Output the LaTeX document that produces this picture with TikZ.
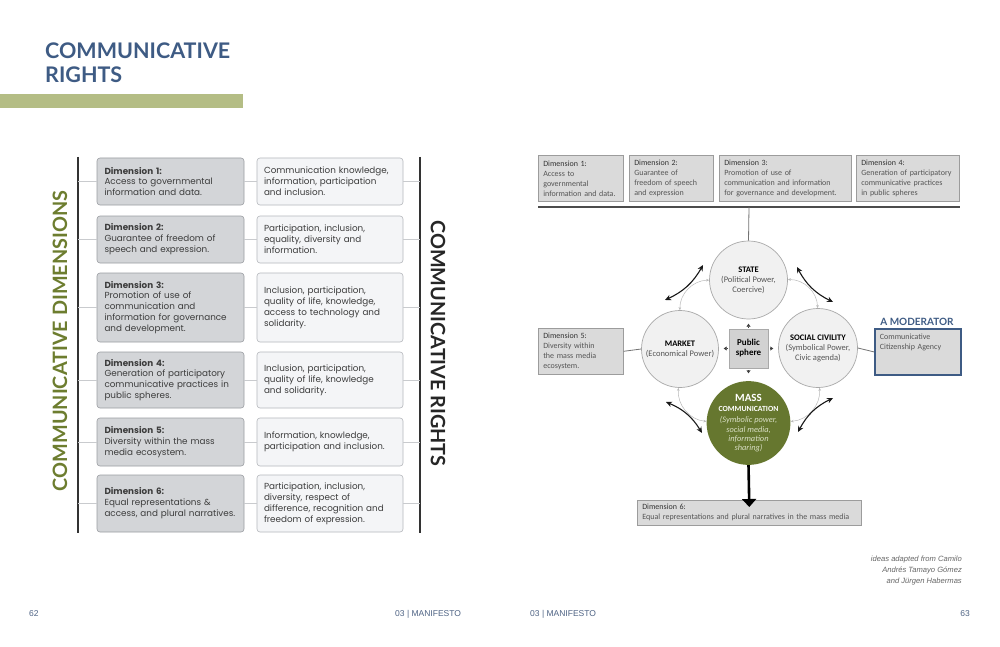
\documentclass[tikz,border=0pt]{standalone}
\usepackage{fontspec}
\setmainfont{Carlito}
\newfontfamily\lato{Lato}
\newfontfamily\pop{Poppins}
\newfontfamily\libs{Liberation Sans}
\usetikzlibrary{arrows.meta}
\definecolor{titleblue}{HTML}{3E5B84}
\definecolor{barolive}{HTML}{B4BD85}
\definecolor{dimgreen}{HTML}{6D7D2F}
\definecolor{massgreen}{HTML}{66772F}
\definecolor{masstext}{HTML}{D8DEC4}
\definecolor{lboxfill}{HTML}{D3D5D8}
\definecolor{lboxborder}{HTML}{9A9DA2}
\definecolor{rboxfill}{HTML}{F4F5F7}
\definecolor{rboxborder}{HTML}{B5B8BC}
\definecolor{ltext}{HTML}{3C3C3C}
\definecolor{grayline}{HTML}{C9CBCE}
\definecolor{tboxfill}{HTML}{DADADA}
\definecolor{tboxborder}{HTML}{9C9C9C}
\definecolor{circfill}{HTML}{F1F1F1}
\definecolor{circborder}{HTML}{A9A9A9}
\definecolor{psfill}{HTML}{D2D2D2}
\definecolor{pagecol}{HTML}{4E6384}
\definecolor{dimhead}{HTML}{333333}
\definecolor{dimbody}{HTML}{555555}
\begin{document}
\begin{tikzpicture}[x=1pt,y=-1pt,
  lbox/.style={draw=lboxborder, fill=lboxfill, rounded corners=3pt, line width=0.6pt,
    text width=132pt, inner xsep=7.5pt, align=left, text=ltext,
    font=\pop\fontsize{8.8}{10.9}\selectfont},
  rbox/.style={draw=rboxborder, fill=rboxfill, rounded corners=3pt, line width=0.6pt,
    text width=132pt, inner xsep=7pt, align=left, text=ltext,
    font=\pop\fontsize{8.8}{10.9}\selectfont},
  vline/.style={draw=black!80, line width=1.2pt},
  hline/.style={draw=grayline, line width=0.8pt},
  tbox/.style={draw=tboxborder, fill=tboxfill, line width=0.6pt, anchor=north west,
    minimum height=46pt, inner xsep=5pt, inner ysep=3pt, align=left, text=dimbody,
    font=\fontsize{8}{10}\selectfont, execute at begin node={\hyphenpenalty=10000}},
  circ/.style={circle, draw=circborder, fill=circfill, line width=0.7pt, align=center,
    text=dimbody, font=\fontsize{8.5}{10}\selectfont, inner sep=0pt},
  ringarc/.style={draw=circborder!80, line width=0.5pt,
    {Stealth[length=3pt,width=2.6pt]}-{Stealth[length=3pt,width=2.6pt]}},
  bigarrow/.style={draw=black!90, line width=1.1pt,
    {Stealth[length=6pt,width=5.5pt]}-{Stealth[length=6pt,width=5.5pt]}},
  pstip/.style={draw=black!75, line width=0.4pt, -{Triangle[length=3pt,width=4pt]}},
  conn/.style={draw=black!55, line width=0.8pt}
]
\useasboundingbox (0,0) rectangle (1000,647);
\fill[white] (0,0) rectangle (1000,647);

% ---------------- left page ----------------
\node[anchor=north west, inner sep=0pt, align=left, text=titleblue,
  font=\lato\bfseries\fontsize{21.5}{23.5}\selectfont] (title) at (45,43) {COMMUNICATIVE\\RIGHTS};
\fill[barolive] (0,94) rectangle (243,108.5);

\node[rotate=90, text=dimgreen, font=\lato\bfseries\fontsize{19.8}{24}\selectfont, inner sep=0pt]
  (vdim) at (60,341) {COMMUNICATIVE DIMENSIONS};
\node[rotate=-90, text=black!85, font=\lato\bfseries\fontsize{19.8}{24}\selectfont, inner sep=0pt]
  (vright) at (438,343.5) {COMMUNICATIVE RIGHTS};

\coordinate (vlt) at (78,157);
\coordinate (vlb) at (78,533);
\coordinate (vrt) at (420,157);
\coordinate (vrb) at (420,533);
\draw[vline] (vlt) -- (vlb);
\draw[vline] (vrt) -- (vrb);

\node[lbox, minimum height=47pt] (l1) at (170.5,181.5)
  {\textbf{Dimension 1:}\\Access to governmental\\information and data.};
\node[rbox, minimum height=47pt] (r1) at (330,181.5)
  {Communication knowledge,\\information, participation\\and inclusion.};
\node[lbox, minimum height=47pt] (l2) at (170.5,239.5)
  {\textbf{Dimension 2:}\\Guarantee of freedom of\\speech and expression.};
\node[rbox, minimum height=47pt] (r2) at (330,239.5)
  {Participation, inclusion,\\equality, diversity and\\information.};
\node[lbox, minimum height=69pt] (l3) at (170.5,307.5)
  {\textbf{Dimension 3:}\\Promotion of use of\\communication and\\information for governance\\and development.};
\node[rbox, minimum height=69pt] (r3) at (330,307.5)
  {Inclusion, participation,\\quality of life, knowledge,\\access to technology and\\solidarity.};
\node[lbox, minimum height=56pt] (l4) at (170.5,380)
  {\textbf{Dimension 4:}\\Generation of participatory\\communicative practices in\\public spheres.};
\node[rbox, minimum height=56pt] (r4) at (330,380)
  {Inclusion, participation,\\quality of life, knowledge\\and solidarity.};
\node[lbox, minimum height=48pt] (l5) at (170.5,442)
  {\textbf{Dimension 5:}\\Diversity within the mass\\media ecosystem.};
\node[rbox, minimum height=48pt] (r5) at (330,442)
  {Information, knowledge,\\participation and inclusion.};
\node[lbox, minimum height=57pt] (l6) at (170.5,503.5)
  {\textbf{Dimension 6:}\\Equal representations \&\\access, and plural narratives.};
\node[rbox, minimum height=57pt] (r6) at (330,503.5)
  {Participation, inclusion,\\diversity, respect of\\difference, recognition and\\freedom of expression.};

\foreach \i/\y in {1/181.5,2/239.5,3/307.5,4/380,5/442,6/503.5}{
  \coordinate (hl\i) at (78,\y);
  \coordinate (hr\i) at (420,\y);
  \draw[hline] (hl\i) -- (l\i.west);
  \draw[hline] (l\i.east) -- (r\i.west);
  \draw[hline] (r\i.east) -- (hr\i);
}

% ---------------- right page ----------------
\node[tbox, text width=75pt] (t1) at (538,155)
  {\textcolor{dimhead}{Dimension 1:}\\Access to\\governmental\\information and data.};
\node[tbox, text width=74pt] (t2) at (629,155)
  {\textcolor{dimhead}{Dimension 2:}\\Guarantee of\\freedom of speech\\and expression};
\node[tbox, text width=122pt] (t3) at (719,155)
  {\textcolor{dimhead}{Dimension 3:}\\Promotion of use of\\communication and information\\for governance and development.};
\node[tbox, text width=93pt] (t4) at (856,155)
  {\textcolor{dimhead}{Dimension 4:}\\Generation of participatory\\communicative practices\\in public spheres};

\coordinate (barL) at (538,207);
\coordinate (barR) at (960,207);
\coordinate (barM) at (749,207);
\draw[draw=black!70, line width=2.4pt] (barL) -- (barR);

\node[circ, minimum size=78pt] (state) at (748.5,280)
  {\textcolor{black}{\textbf{STATE}}\\(Political Power,\\Coercive)};
\node[circ, minimum size=77pt] (market) at (680,349)
  {\textcolor{black}{\textbf{MARKET}}\\(Economical Power)};
\node[circ, minimum size=79pt] (social) at (818,348)
  {\textcolor{black}{\textbf{SOCIAL CIVILITY}}\\(Symbolical Power,\\Civic agenda)};
\node[circle, fill=massgreen, minimum size=78pt, inner sep=0pt, align=center,
  font=\fontsize{8.4}{9.3}\selectfont] (mass) at (748.5,423)
  {\mbox{}\\[-1.3pt]
   \textcolor{white}{\bfseries\fontsize{11}{9.3}\selectfont MASS}\\
   \textcolor{white}{\bfseries\fontsize{7.8}{9.3}\selectfont COMMUNICATION}\\[2.5pt]
   \textcolor{masstext}{\itshape (Symbolic power,}\\
   \textcolor{masstext}{\itshape social media,}\\
   \textcolor{masstext}{\itshape information}\\
   \textcolor{masstext}{\itshape sharing)}};
\node[draw=circborder, fill=psfill, line width=0.6pt, minimum size=39pt, inner sep=0pt,
  align=center, font=\bfseries\fontsize{9}{10}\selectfont] (ps) at (748.5,348.5) {Public\\sphere};

\draw[conn] (barM) -- (state.north);

\draw[ringarc] (state) to[bend right=45] (market);
\draw[ringarc] (state) to[bend left=45] (social);
\draw[ringarc] (market) to[bend right=45] (mass);
\draw[ringarc] (social) to[bend left=45] (mass);

\draw[pstip] ([yshift=2pt]ps.north) -- ([yshift=5pt]ps.north);
\draw[pstip] ([yshift=-2pt]ps.south) -- ([yshift=-5pt]ps.south);
\draw[pstip] ([xshift=-2pt]ps.west) -- ([xshift=-5pt]ps.west);
\draw[pstip] ([xshift=2pt]ps.east) -- ([xshift=5pt]ps.east);

\coordinate (a1s) at (665,300); \coordinate (a1e) at (703,265);
\coordinate (a2s) at (797,267); \coordinate (a2e) at (833,302);
\coordinate (a3s) at (666,402); \coordinate (a3e) at (702,433);
\coordinate (a4s) at (798,432); \coordinate (a4e) at (833,398);
\draw[bigarrow] (a1s) to[bend right=18] (a1e);
\draw[bigarrow] (a2s) to[bend right=18] (a2e);
\draw[bigarrow] (a3s) to[bend left=18] (a3e);
\draw[bigarrow] (a4s) to[bend left=18] (a4e);

\node[tbox, text width=75pt] (d5) at (538,328)
  {\textcolor{dimhead}{Dimension 5:}\\Diversity within\\the mass media\\ecosystem.};
\draw[conn] (d5.east) -- (market.west);

\node[tbox, draw=titleblue, line width=1.8pt, text width=76pt] (mod) at (874,328)
  {Communicative\\Citizenship Agency\\\mbox{}\\\mbox{}};
\node[text=titleblue, font=\lato\bfseries\fontsize{10}{12}\selectfont, inner sep=0pt] (modl) at (917,322) {A MODERATOR};
\draw[conn] (social.east) -- (mod.west);

\node[tbox, minimum height=25pt, text width=214pt] (d6) at (637,500)
  {\textcolor{dimhead}{Dimension 6:}\\Equal representations and plural narratives in the mass media};
\draw[draw=black, line width=2.6pt, -{Triangle[length=8pt,width=14pt]}] (mass.south) -- ([yshift=-7pt]d6.north);

% footer
\node[anchor=north east, align=right, inner sep=0pt, text=black!60,
  font=\libs\itshape\fontsize{7.6}{11}\selectfont] (credit) at (962,556)
  {ideas adapted from Camilo\\Andrés Tamayo Gómez\\and Jürgen Habermas};
\node[anchor=west, inner sep=0pt, text=pagecol, font=\libs\fontsize{8.5}{10}\selectfont] (p62) at (29,614) {62};
\node[anchor=west, inner sep=0pt, text=pagecol, font=\libs\fontsize{8.5}{10}\selectfont] (m1) at (395,614) {03 | MANIFESTO};
\node[anchor=west, inner sep=0pt, text=pagecol, font=\libs\fontsize{8.5}{10}\selectfont] (m2) at (530,614) {03 | MANIFESTO};
\node[anchor=east, inner sep=0pt, text=pagecol, font=\libs\fontsize{8.5}{10}\selectfont] (p63) at (970,614) {63};
\end{tikzpicture}
\end{document}
